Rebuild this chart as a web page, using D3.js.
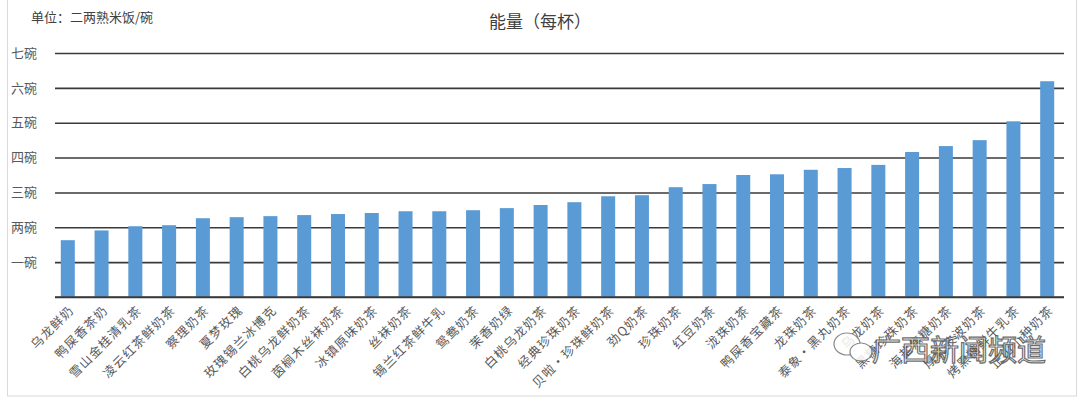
<!DOCTYPE html>
<html>
<head>
<meta charset="utf-8">
<script src="https://cdn.jsdelivr.net/npm/d3@7"></script>
<style>
  body { margin: 0; background: #fff; }
  svg { display: block; font-family: "Noto Sans CJK SC", sans-serif; }
</style>
</head>
<body>
<div id="container"></div>
<script>
// chart data
const drinks = ['乌龙鲜奶', '鸭屎香茶奶', '雪山金桂清乳茶', '凌云红茶鲜奶茶', '察理奶茶', '夏梦玫瑰',
  '玫瑰锡兰冰博克', '白桃乌龙鲜奶茶', '茵榈木丝袜奶茶', '冰镇原味奶茶', '丝袜奶茶', '锡兰红茶鲜牛乳',
  '鸳鸯奶茶', '茉香奶绿', '白桃乌龙奶茶', '经典珍珠奶茶', '贝啦·珍珠鲜奶茶', '劲Q奶茶', '珍珠奶茶',
  '红豆奶茶', '泷珠奶茶', '鸭屎香宝藏茶', '龙珠奶茶', '泰象·黑丸奶茶', '乌龙奶茶', '黑糖珍珠奶茶',
  '海盐焦糖奶茶', '厚乳波波奶茶', '烤黑糖鲜牛乳茶', '正山小种奶茶']
const bowls = [1.63, 1.91, 2.03, 2.06, 2.26, 2.29, 2.32, 2.35, 2.38, 2.41, 2.46, 2.46,
  2.49, 2.55, 2.64, 2.72, 2.89, 2.92, 3.15, 3.24, 3.50, 3.52, 3.65, 3.70, 3.79,
  4.16, 4.33, 4.50, 5.04, 6.19]
const yTicks = [0, 1, 2, 3, 4, 5, 6, 7]
const yTickLabels = ['', '一碗', '两碗', '三碗', '四碗', '五碗', '六碗', '七碗']

const width = 1080
const height = 399
const margin = { top: 53, right: 16, bottom: 102, left: 51 }

const svg = d3.select('#container').append('svg')
    .attr('width', width).attr('height', height)

// outer chart frame
svg.append('rect')
    .attr('x', 7.5).attr('y', -1)
    .attr('width', 1069).attr('height', 397)
    .attr('fill', 'none').attr('stroke', '#d9d9d9')

svg.append('text')
    .attr('x', 540).attr('y', 28)
    .attr('text-anchor', 'middle')
    .attr('font-size', 17)
    .attr('fill', '#404040')
    .text('能量（每杯）')

svg.append('text')
    .attr('x', 31).attr('y', 22)
    .attr('font-size', 13)
    .attr('fill', '#404040')
    .text('单位：二两熟米饭/碗')

const x = d3.scaleBand()
    .domain(drinks)
    .range([margin.left, width - margin.right])
    .paddingInner(0.585)
    .paddingOuter(0.29)

const y = d3.scaleLinear()
    .domain([0, 7])
    .range([height - margin.bottom, margin.top])

// gridlines + labels
const yAxis = d3.axisLeft(y)
    .tickValues(yTicks)
    .tickSize(-(width - margin.right - 55))
    .tickFormat((d, i) => yTickLabels[i])

svg.append('g')
    .attr('transform', `translate(55, 0)`)
    .call(yAxis)
    .call(g => g.select('.domain').remove())
    .call(g => g.selectAll('.tick line').attr('stroke', '#3a3a3a').attr('stroke-width', 1.6))
    .call(g => g.selectAll('.tick text')
        .attr('x', -18)
        .attr('font-size', 13)
        .attr('fill', '#595959')
        .attr('font-family', '"Noto Sans CJK SC", sans-serif'))

svg.append('g').selectAll('rect')
    .data(bowls)
    .enter()
    .append('rect')
    .attr('x', (d, i) => x(drinks[i]))
    .attr('y', d => y(d))
    .attr('width', x.bandwidth())
    .attr('height', d => y(0) - y(d))
    .attr('fill', '#5b9bd5')

// baseline drawn over the bars
svg.append('line')
    .attr('x1', 55).attr('x2', width - margin.right)
    .attr('y1', y(0)).attr('y2', y(0))
    .attr('stroke', '#3a3a3a').attr('stroke-width', 1.6)

// rotated category labels
svg.append('g').selectAll('text')
    .data(drinks)
    .enter()
    .append('text')
    .attr('transform', d => `translate(${x(d) + x.bandwidth() / 2 + 7}, ${y(0) + 14}) rotate(-45)`)
    .attr('text-anchor', 'end')
    .attr('font-size', 12.5)
    .attr('letter-spacing', 1.2)
    .attr('fill', '#595959')
    .text(d => d)

// watermark
const wm = svg.append('g').attr('opacity', 0.85)
wm.append('ellipse')
    .attr('cx', 847).attr('cy', 344).attr('rx', 13).attr('ry', 11)
    .attr('fill', 'white').attr('stroke', '#777').attr('stroke-width', 1.2)
wm.append('ellipse')
    .attr('cx', 861).attr('cy', 352).attr('rx', 11).attr('ry', 9)
    .attr('fill', 'white').attr('stroke', '#777').attr('stroke-width', 1.2)
wm.append('text')
    .attr('x', 872).attr('y', 361)
    .attr('font-size', 29)
    .attr('fill', 'white')
    .attr('stroke', '#555')
    .attr('stroke-width', 1.2)
    .text('广西新闻频道')
</script>
</body>
</html>
